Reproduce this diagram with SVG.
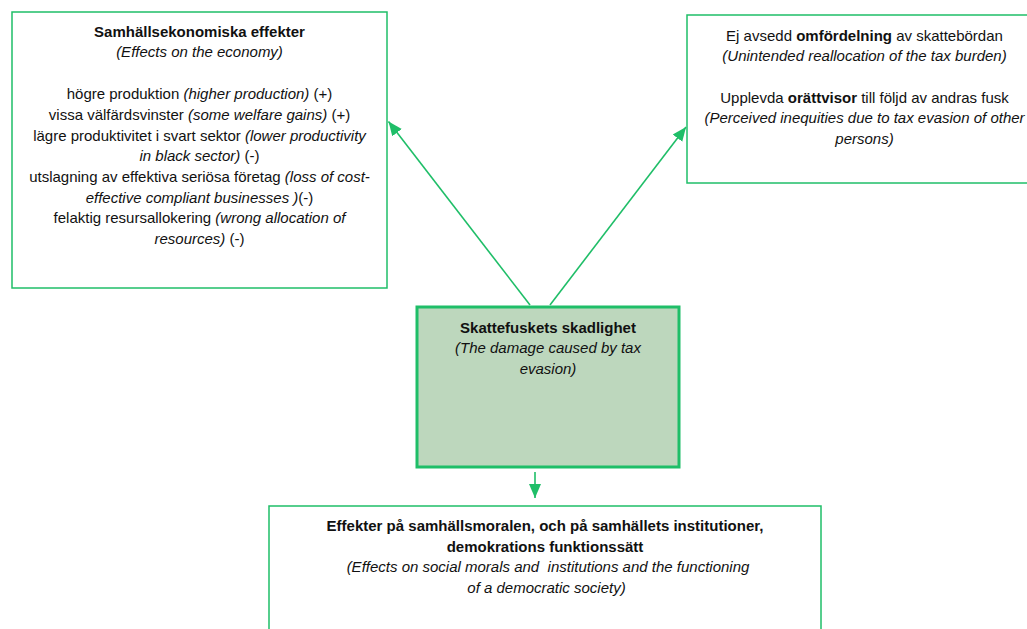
<svg xmlns="http://www.w3.org/2000/svg" width="1027" height="629" viewBox="0 0 1027 629">
<style>
  text { font-family: "Liberation Sans", Arial, sans-serif; font-size: 15px; fill: #111; text-anchor: middle; white-space: pre; }
  .b { font-weight: bold; }
  .i { font-style: italic; }
  .box { fill: #ffffff; stroke: #1fbe68; stroke-width: 1.5; }
  .core { fill: #bdd7bd; stroke: #1fbe68; stroke-width: 3; }
  .conn { stroke: #1fbe68; stroke-width: 1.6; fill: none; marker-end: url(#arr); }
</style>
<defs>
  <marker id="arr" markerUnits="userSpaceOnUse" markerWidth="14" markerHeight="14" viewBox="0 0 14 12" refX="14" refY="6" orient="auto">
    <path d="M0,0 L14,6 L0,12 Z" fill="#1fbe68"/>
  </marker>
</defs>
<rect width="1027" height="629" fill="#ffffff"/>

<g id="connectors">
  <line class="conn" x1="530" y1="305" x2="388.5" y2="121.5"/>
  <line class="conn" x1="550" y1="305" x2="686" y2="127"/>
  <line class="conn" x1="535" y1="472" x2="535" y2="498"/>
</g>

<g id="node-economy">
  <rect class="box" x="12" y="12" width="375" height="276"/>
  <text x="199.5" y="36.7" class="b">Samhällsekonomiska effekter</text>
  <text x="199.5" y="57.3" class="i">(Effects on the economy)</text>
  <text x="199.5" y="99.3">högre produktion <tspan class="i">(higher production)</tspan> (+)</text>
  <text x="199.5" y="120">vissa välfärdsvinster <tspan class="i">(some welfare gains)</tspan> (+)</text>
  <text x="199.5" y="140.7">lägre produktivitet i svart sektor <tspan class="i">(lower productivity</tspan></text>
  <text x="199.5" y="161.3"><tspan class="i">in black sector)</tspan> (-)</text>
  <text x="199.5" y="182">utslagning av effektiva seriösa företag <tspan class="i">(loss of cost-</tspan></text>
  <text x="199.5" y="202.7"><tspan class="i">effective compliant businesses )</tspan>(-)</text>
  <text x="199.5" y="223.3">felaktig resursallokering <tspan class="i">(wrong allocation of</tspan></text>
  <text x="199.5" y="244"><tspan class="i">resources)</tspan> (-)</text>
</g>

<g id="node-redistribution">
  <rect class="box" x="687" y="15" width="355" height="168"/>
  <text x="864.5" y="40.5">Ej avsedd <tspan class="b">omfördelning</tspan> av skattebördan</text>
  <text x="864.5" y="61.2" class="i">(Unintended reallocation of the tax burden)</text>
  <text x="864.5" y="102.6">Upplevda <tspan class="b">orättvisor</tspan> till följd av andras fusk</text>
  <text x="864.5" y="123.3" class="i">(Perceived inequities due to tax evasion of other</text>
  <text x="864.5" y="144" class="i">persons)</text>
</g>

<g id="node-damage">
  <rect class="core" x="417" y="307" width="262" height="160"/>
  <text x="548" y="332.7" class="b">Skattefuskets skadlighet</text>
  <text x="548" y="353.4" class="i">(The damage caused by tax</text>
  <text x="548" y="374" class="i">evasion)</text>
</g>

<g id="node-morals">
  <rect class="box" x="269" y="506" width="552" height="140"/>
  <text x="545" y="531" class="b">Effekter på samhällsmoralen, och på samhällets institutioner,</text>
  <text x="545" y="551.5" class="b">demokrations funktionssätt</text>
  <text x="548" y="572" class="i">(Effects on social morals and  institutions and the functioning</text>
  <text x="546.5" y="592.5" class="i">of a democratic society)</text>
</g>
</svg>
